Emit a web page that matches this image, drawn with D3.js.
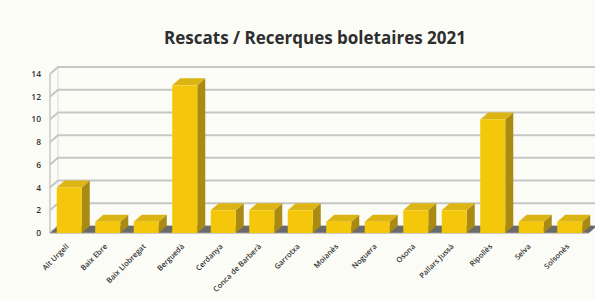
<!DOCTYPE html>
<html><head><meta charset="utf-8">
<script src="https://cdn.jsdelivr.net/npm/d3@7"></script>
<style>html,body{margin:0;padding:0;background:#fcfcf7;}svg{display:block;}</style>
</head><body>
<script>
const categories = ["Alt Urgell","Baix Ebre","Baix Llobregat","Berguedà","Cerdanya","Conca de Barberà","Garrotxa","Moianès","Noguera","Osona","Pallars Jussà","Ripollès","Selva","Solsonès"];
const values = [4,1,1,13,2,2,2,1,1,2,2,10,1,1];
const yTicks = [0,2,4,6,8,10,12,14];
const title = "Rescats / Recerques boletaires 2021";

const W = 595, H = 299;
const dx = 8, dy = -7;
const svg = d3.select("body").append("svg").attr("width", W).attr("height", H);
svg.append("rect").attr("width", W).attr("height", H).attr("fill", "#fcfcf7");

const x = d3.scaleBand().domain(categories).range([50, 589]).paddingInner(0.35).paddingOuter(0.175);
const y = d3.scaleLinear().domain([0, 14]).range([233, 74]);

svg.append("text").attr("x", 315).attr("y", 44).attr("text-anchor", "middle")
  .attr("font-family", "Open Sans, sans-serif").attr("font-weight", "bold").attr("font-size", 17)
  .attr("fill", "#2e2e2e").text(title);

// side wall vertical line
svg.append("line").attr("x1", 50).attr("x2", 50).attr("y1", y(14)).attr("y2", y(0))
  .attr("stroke", "#c8c8c8").attr("stroke-width", 1.5);
svg.append("line").attr("x1", 50 + dx).attr("x2", 50 + dx).attr("y1", y(14) + dy).attr("y2", y(0) + dy)
  .attr("stroke", "#d8d8d8").attr("stroke-width", 1);

// grid lines (back wall + side wall diagonal)
const g = svg.append("g");
yTicks.forEach(v => {
  g.append("path")
    .attr("d", `M50,${y(v)} L${50 + dx},${y(v) + dy} L${W},${y(v) + dy}`)
    .attr("fill", "none").attr("stroke", "#c6c6c6").attr("stroke-width", 2);
});

// y-axis labels
svg.selectAll("text.yl").data(yTicks).join("text").attr("class", "yl")
  .attr("x", 41).attr("y", d => y(d) + 3).attr("text-anchor", "end")
  .attr("font-family", "Open Sans, sans-serif").attr("font-weight", "600").attr("font-size", 8.5).attr("fill", "#333")
  .text(d => d);

// floor
svg.append("path")
  .attr("d", `M50,${y(0)} L589,${y(0)} L${589 + dx},${y(0) + dy} L${50 + dx},${y(0) + dy} Z`)
  .attr("fill", "#6a6a6a");
svg.append("line").attr("x1", 50).attr("x2", 589).attr("y1", y(0)).attr("y2", y(0))
  .attr("stroke", "#9a9a9a").attr("stroke-width", 1);

// bars
const bw = x.bandwidth();
const bars = svg.selectAll("g.bar").data(categories.map((c, i) => ({c, v: values[i]}))).join("g").attr("class", "bar");
bars.append("path") // side
  .attr("d", d => { const x1 = x(d.c) + bw, yt = y(d.v), yb = y(0);
    return `M${x1},${yt} L${x1 + dx},${yt + dy} L${x1 + dx},${yb + dy} L${x1},${yb} Z`; })
  .attr("fill", "#a98b14");
bars.append("path") // top
  .attr("d", d => { const x0 = x(d.c), yt = y(d.v);
    return `M${x0},${yt} L${x0 + bw},${yt} L${x0 + bw + dx},${yt + dy} L${x0 + dx},${yt + dy} Z`; })
  .attr("fill", "#dcb414");
bars.append("rect") // front
  .attr("x", d => x(d.c)).attr("y", d => y(d.v)).attr("width", bw).attr("height", d => y(0) - y(d.v))
  .attr("fill", "#f5c70a");

// x labels
svg.selectAll("text.xl").data(categories).join("text").attr("class", "xl")
  .attr("transform", d => `translate(${x(d) + bw / 2},${y(0) + 14}) rotate(-45)`)
  .attr("text-anchor", "end")
  .attr("font-family", "Open Sans, sans-serif").attr("font-weight", "600").attr("font-size", 7.5).attr("fill", "#333")
  .text(d => d);
</script>
</body></html>
